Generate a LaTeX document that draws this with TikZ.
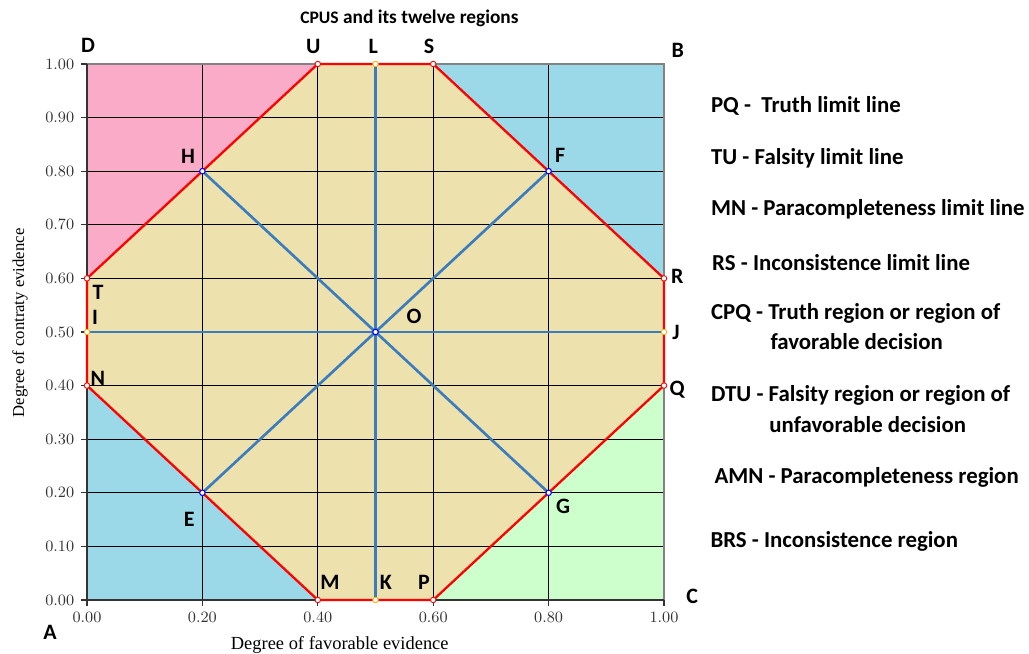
\documentclass[tikz,border=0pt]{standalone}
\usepackage{fontspec}
\setmainfont{Liberation Serif}
\newfontfamily\calib{Carlito}

\definecolor{falsitypink}{RGB}{249,171,200}
\definecolor{cornerblue}{RGB}{155,216,232}
\definecolor{truthgreen}{RGB}{205,255,205}
\definecolor{midtan}{RGB}{237,225,174}
\definecolor{steel}{RGB}{58,124,190}
\definecolor{markyellow}{RGB}{240,180,20}
\definecolor{frame}{RGB}{130,130,130}

\tikzset{
  ptlabel/.style={font=\calib\bfseries\fontsize{12.5}{14}\selectfont, inner sep=0pt},
  legtext/.style={font=\calib\bfseries\fontsize{13}{16}\selectfont, anchor=west, inner sep=0pt},
  ticklab/.style={font=\fontsize{9.5}{11}\selectfont},
  gridline/.style={black, line width=0.5pt},
  limitline/.style={red, line width=1.3pt, line join=round},
  centreline/.style={steel, line width=1.5pt},
  redmark/.style={draw=red, fill=white, line width=0.5pt},
  yelmark/.style={draw=markyellow, fill=white, line width=0.5pt},
  bluemark/.style={draw=blue, fill=white, line width=0.6pt}
}

\begin{document}
\begin{tikzpicture}[x=11.54cm, y=10.72cm]
\useasboundingbox (-0.1508,-0.1007) rectangle (1.6326,1.1194);

% corners of the unit square
\coordinate (A) at (0,0);
\coordinate (B) at (1,1);
\coordinate (C) at (1,0);
\coordinate (D) at (0,1);
% limit points
\coordinate (U) at (0.4,1);   \coordinate (S) at (0.6,1);
\coordinate (R) at (1,0.6);   \coordinate (Q) at (1,0.4);
\coordinate (P) at (0.6,0);   \coordinate (M) at (0.4,0);
\coordinate (N) at (0,0.4);   \coordinate (T) at (0,0.6);
\coordinate (H) at (0.2,0.8); \coordinate (F) at (0.8,0.8);
\coordinate (G) at (0.8,0.2); \coordinate (E) at (0.2,0.2);
\coordinate (L) at (0.5,1);   \coordinate (K) at (0.5,0);
\coordinate (I) at (0,0.5);   \coordinate (J) at (1,0.5);
\coordinate (O) at (0.5,0.5);

% regions
\fill[midtan] (T)--(H)--(U)--(S)--(F)--(R)--(Q)--(G)--(P)--(M)--(E)--(N)--cycle;
\fill[falsitypink] (D)--(U)--(H)--(T)--cycle;
\fill[cornerblue] (B)--(S)--(F)--(R)--cycle;
\fill[cornerblue] (A)--(M)--(E)--(N)--cycle;
\fill[truthgreen] (C)--(P)--(G)--(Q)--cycle;

% grid
\foreach \x in {0.2,0.4,0.6,0.8} \draw[gridline] (\x,0)--(\x,1);
\foreach \k in {1,...,9} \draw[gridline] (0,\k/10)--(1,\k/10);
\draw[frame, line width=1pt] (D)--(B)--(C);
\draw[black!80, line width=0.9pt] (D)--(A)--(C);

% ticks and tick labels
\foreach \k [evaluate=\k as \yv using \k/10] in {0,...,10} {
 \draw[black!80, line width=0.7pt] (0,\yv) --++(-0.011,0) node[left, ticklab] {\pgfmathprintnumber[fixed,fixed zerofill,precision=2]{\yv}};
}
\foreach \k [evaluate=\k as \xv using \k/5] in {0,...,5} {
 \draw[black!80, line width=0.7pt] (\xv,0) --++(0,-0.011) node[below, ticklab] {\pgfmathprintnumber[fixed,fixed zerofill,precision=2]{\xv}};
}

% centre lines through O
\draw[centreline] (H)--(G);
\draw[centreline] (E)--(F);
\draw[centreline] (L)--(K);
\draw[centreline] (I)--(J);

% limit lines
\draw[limitline] (T)--(H)--(U)--(S)--(F)--(R)--(Q)--(G)--(P)--(M)--(E)--(N)--cycle;

% point marks
\foreach \p in {U,S,R,Q,P,M,N,T} \filldraw[redmark] (\p) circle (0.55mm);
\foreach \p in {L,K,I,J} \filldraw[yelmark] (\p) circle (0.55mm);
\foreach \p in {H,F,G,E,O} \filldraw[bluemark] (\p) circle (0.55mm);

% point names
\node[ptlabel] (lD) at (0.002,1.035) {D};
\node[ptlabel] (lB) at (1.024,1.026) {B};
\node[ptlabel] (lC) at (1.049,0.006) {C};
\node[ptlabel] (lA) at (-0.064,-0.060) {A};
\node[ptlabel] (lU) at (0.392,1.032) {U};
\node[ptlabel] (lL) at (0.496,1.032) {L};
\node[ptlabel] (lS) at (0.593,1.032) {S};
\node[ptlabel] (lH) at (0.175,0.828) {H};
\node[ptlabel] (lF) at (0.820,0.830) {F};
\node[ptlabel] (lT) at (0.019,0.573) {T};
\node[ptlabel] (lI) at (0.014,0.528) {I};
\node[ptlabel] (lN) at (0.019,0.414) {N};
\node[ptlabel] (lO) at (0.567,0.530) {O};
\node[ptlabel] (lR) at (1.023,0.604) {R};
\node[ptlabel] (lJ) at (1.021,0.500) {J};
\node[ptlabel] (lQ) at (1.023,0.392) {Q};
\node[ptlabel] (lE) at (0.177,0.151) {E};
\node[ptlabel] (lG) at (0.825,0.174) {G};
\node[ptlabel] (lM) at (0.421,0.032) {M};
\node[ptlabel] (lK) at (0.518,0.032) {K};
\node[ptlabel] (lP) at (0.584,0.032) {P};

% title and axis names
\node[ptlabel, anchor=west, font=\calib\bfseries\fontsize{11}{13}\selectfont] (title) at (0.369,1.086) {{\fontsize{10}{12}\selectfont CPUS} and its twelve regions};
\node[font=\fontsize{10.5}{12}\selectfont] (xname) at (0.438,-0.084) {Degree of favorable evidence};
\node[font=\fontsize{9.5}{11}\selectfont, rotate=90] (yname) at (-0.116,0.517) {Degree of contraty evidence};

% legend
\node[legtext] (leg1) at (1.081,0.922) {PQ -\ \ Truth limit line};
\node[legtext] (leg2) at (1.081,0.825) {TU - Falsity limit line};
\node[legtext] (leg3) at (1.081,0.728) {MN - Paracompleteness limit line};
\node[legtext] (leg4) at (1.083,0.629) {RS - Inconsistence limit line};
\node[legtext] (leg5) at (1.081,0.535) {CPQ - Truth region or region of};
\node[legtext] (leg5b) at (1.184,0.483) {favorable decision};
\node[legtext] (leg6) at (1.081,0.381) {DTU - Falsity region or region of};
\node[legtext] (leg6b) at (1.182,0.328) {unfavorable decision};
\node[legtext] (leg7) at (1.087,0.229) {AMN - Paracompleteness region};
\node[legtext] (leg8) at (1.080,0.110) {BRS - Inconsistence region};
\end{tikzpicture}
\end{document}
